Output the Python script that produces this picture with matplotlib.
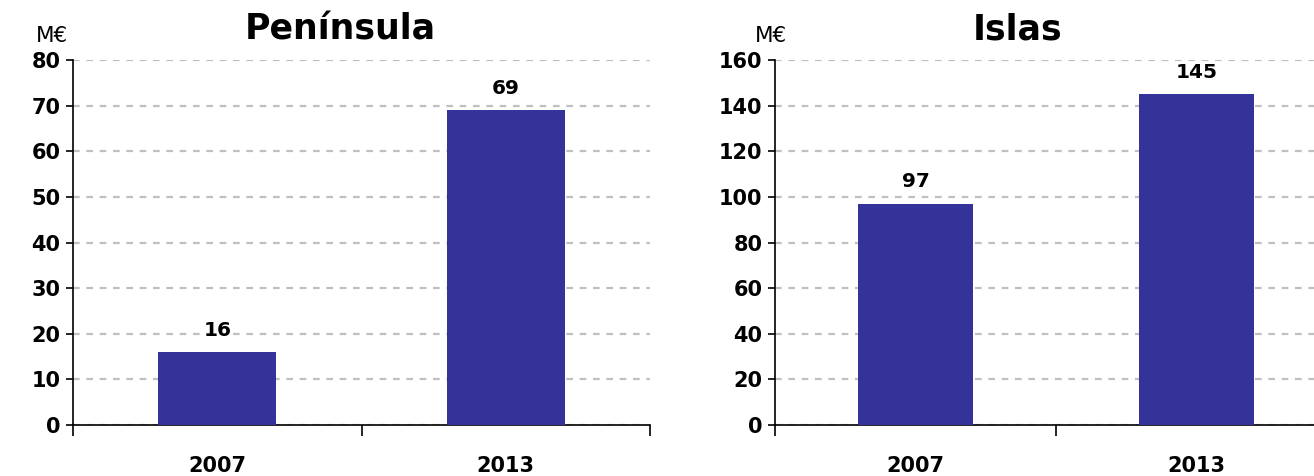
import matplotlib
matplotlib.use("Agg")
import matplotlib.pyplot as plt

# data
years = ["2007", "2013"]
peninsula = [16, 69]
islas = [97, 145]
titles = ["Península", "Islas"]
unit = "M€"

BAR = "#333399"
GRID = "#c0c0c0"

fig = plt.figure(figsize=(13.14, 4.76), dpi=100)

# left / right panels (right one is clipped at the figure edge like the source)
ax1 = fig.add_axes([73 / 1314, 1 - 425 / 476, (650 - 73) / 1314, 365 / 476])
ax2 = fig.add_axes([775 / 1314, 1 - 425 / 476, (1314 - 775) / 1314, 365 / 476])


def style(ax, vals, ymax, step, xmax, bounds):
    x = range(len(years))
    ax.bar(x, vals, width=0.41, color=BAR, zorder=3)
    for xi, v in zip(x, vals):
        ax.annotate(str(v), (xi, v), xytext=(0, 9), textcoords="offset points",
                    ha="center", va="bottom", fontsize=14.5, fontweight="bold")
    ax.set_xlim(-0.5, xmax)
    ax.set_ylim(0, ymax)
    ax.set_yticks(range(0, ymax + 1, step))
    ax.tick_params(axis="y", labelsize=15, length=5, width=1.2, pad=4)
    for lbl in ax.get_yticklabels():
        lbl.set_fontweight("bold")
    ax.set_xticks(bounds)
    ax.set_xticklabels([])
    ax.tick_params(axis="x", which="major", length=8, width=1.2)
    ax.set_xticks(list(x), minor=True)
    ax.set_xticklabels(years, minor=True, fontsize=15, fontweight="bold")
    ax.tick_params(axis="x", which="minor", length=0, pad=22)
    ax.grid(axis="y", color=GRID, linestyle=(0, (3, 3)), linewidth=1.6, zorder=0)
    for s in ["top", "right"]:
        ax.spines[s].set_visible(False)
    ax.spines["left"].set_linewidth(1.2)
    ax.spines["bottom"].set_linewidth(1.2)


style(ax1, peninsula, 80, 10, 1.5, [-0.5, 0.5, 1.5])
style(ax2, islas, 160, 20, 1.418, [-0.5, 0.5])

fig.text(340 / 1314, 1 - 30 / 476, titles[0], ha="center", va="center",
         fontsize=25, fontweight="bold")
fig.text(1018 / 1314, 1 - 30 / 476, titles[1], ha="center", va="center",
         fontsize=25, fontweight="bold")
fig.text(52 / 1314, 1 - 36 / 476, unit, ha="center", va="center", fontsize=15.5)
fig.text(771 / 1314, 1 - 36 / 476, unit, ha="center", va="center", fontsize=15.5)

fig.savefig("out.png", dpi=100, facecolor="white")
